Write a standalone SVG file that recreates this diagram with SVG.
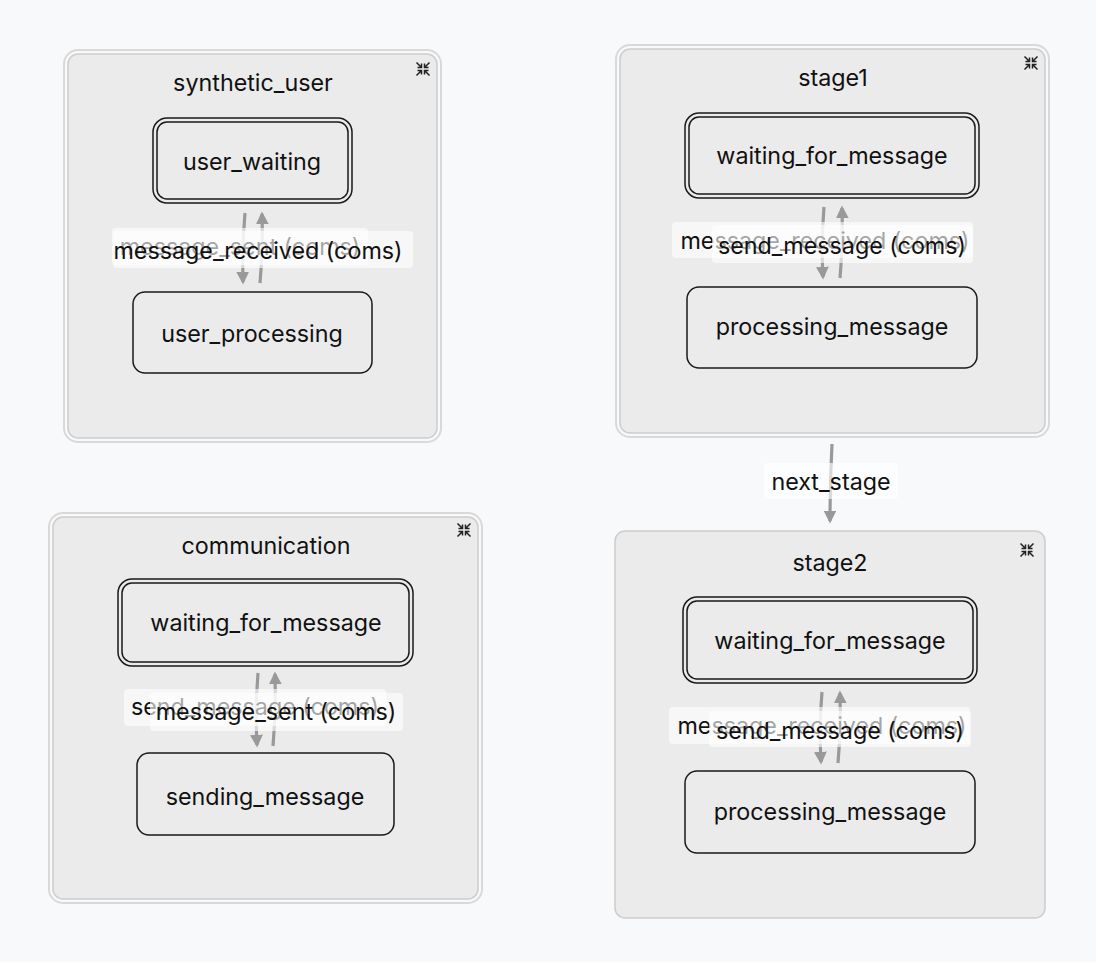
<svg xmlns="http://www.w3.org/2000/svg" width="1096" height="962" viewBox="0 0 1096 962">
<style>
text{font-family:Inter,"Noto Sans","Liberation Sans",sans-serif;font-size:23.3px;fill:#111;text-anchor:middle}
.ring{fill:none;stroke:#d9d9d9;stroke-width:2}
.box{fill:#ebebeb;stroke:#cdcdcd;stroke-width:1.5}
.st{fill:none;stroke:#1a1a1a;stroke-width:1.5}
.edge{fill:none;stroke:#999;stroke-width:3.2;marker-end:url(#ah)}
.lbl{fill:#fff;fill-opacity:0.62}
.ico{fill:none;stroke:#222;stroke-width:1.5}
</style>
<defs>
<marker id="ah" viewBox="0 0 10 10" refX="8" refY="5" markerWidth="4" markerHeight="4" orient="auto" markerUnits="strokeWidth">
<path d="M0,0 L10,5 L0,10 z" fill="#999"/>
</marker>
<g id="icon">
<path class="ico" d="M-6.5,-6.5 L-1.5,-1.5 M-1.5,-5.5 L-1.5,-1.5 L-5.5,-1.5"/>
<path class="ico" d="M6.5,-6.5 L1.5,-1.5 M1.5,-5.5 L1.5,-1.5 L5.5,-1.5"/>
<path class="ico" d="M-6.5,6.5 L-1.5,1.5 M-1.5,5.5 L-1.5,1.5 L-5.5,1.5"/>
<path class="ico" d="M6.5,6.5 L1.5,1.5 M1.5,5.5 L1.5,1.5 L5.5,1.5"/>
</g>
</defs>
<rect width="1096" height="962" fill="#f8f9fb"/>

<g id="synthetic_user">
<rect class="ring" x="64" y="50" width="377" height="392" rx="14"/>
<rect class="box" x="68" y="54" width="369" height="384" rx="10"/>
<text x="253" y="91">synthetic_user</text>
<use href="#icon" x="423" y="69"/>
</g>
<g id="su_user_waiting">
<rect class="st" x="153" y="118" width="199" height="85" rx="14"/>
<rect class="st" x="157" y="122" width="191" height="77" rx="10"/>
<text x="252" y="170">user_waiting</text>
</g>
<g id="su_user_processing">
<rect class="st" x="133" y="292" width="239" height="81" rx="12"/>
<text x="252" y="342">user_processing</text>
</g>

<g id="stage1">
<rect class="ring" x="616" y="45" width="433" height="392" rx="14"/>
<rect class="box" x="620" y="49" width="425" height="384" rx="10"/>
<text x="833" y="86">stage1</text>
<use href="#icon" x="1031" y="63"/>
</g>
<g id="s1_waiting">
<rect class="st" x="685" y="113" width="294" height="85" rx="14"/>
<rect class="st" x="689" y="117" width="286" height="77" rx="10"/>
<text x="832" y="164">waiting_for_message</text>
</g>
<g id="s1_processing">
<rect class="st" x="687" y="287" width="290" height="81" rx="12"/>
<text x="832" y="335">processing_message</text>
</g>

<g id="communication">
<rect class="ring" x="49" y="513" width="433" height="390" rx="14"/>
<rect class="box" x="53" y="517" width="425" height="382" rx="10"/>
<text x="266" y="554">communication</text>
<use href="#icon" x="464" y="530"/>
</g>
<g id="c_waiting">
<rect class="st" x="118" y="579" width="295" height="87" rx="14"/>
<rect class="st" x="122" y="583" width="287" height="79" rx="10"/>
<text x="266" y="631">waiting_for_message</text>
</g>
<g id="c_sending">
<rect class="st" x="137" y="753" width="257" height="82" rx="12"/>
<text x="265" y="805">sending_message</text>
</g>

<g id="stage2">
<rect class="box" x="615" y="531" width="430" height="387" rx="10"/>
<text x="830" y="571">stage2</text>
<use href="#icon" x="1027" y="550"/>
</g>
<g id="s2_waiting">
<rect class="st" x="683" y="597" width="294" height="86" rx="14"/>
<rect class="st" x="687" y="601" width="286" height="78" rx="10"/>
<text x="830" y="649">waiting_for_message</text>
</g>
<g id="s2_processing">
<rect class="st" x="685" y="771" width="290" height="82" rx="12"/>
<text x="830" y="820">processing_message</text>
</g>

<g id="connectors">
<path class="edge" d="M245,213 Q242,248 243,282"/>
<path class="edge" d="M260,283 Q263,248 262,214"/>
<rect class="lbl" x="112" y="228" width="256" height="37" rx="4"/>
<text x="240" y="255">message_sent (coms)</text>
<rect class="lbl" x="113" y="231" width="300" height="37" rx="4"/>
<text x="258" y="259">message_received (coms)</text>

<path class="edge" d="M824,207 Q821,242 823,277"/>
<path class="edge" d="M840,278 Q843,243 842,208"/>
<rect class="lbl" x="672" y="222" width="301" height="36" rx="4"/>
<text x="825" y="249">message_received (coms)</text>
<rect class="lbl" x="712" y="225" width="261" height="38" rx="4"/>
<text x="842" y="254">send_message (coms)</text>

<path class="edge" d="M258,673 Q255,709 257,745"/>
<path class="edge" d="M273,746 Q276,710 275,674"/>
<rect class="lbl" x="124" y="689" width="262" height="37" rx="4"/>
<text x="255" y="715">send_message (coms)</text>
<rect class="lbl" x="150" y="693" width="253" height="38" rx="4"/>
<text x="276" y="720">message_sent (coms)</text>

<path class="edge" d="M822,692 Q819,727 821,762"/>
<path class="edge" d="M838,763 Q841,728 840,693"/>
<rect class="lbl" x="669" y="707" width="301" height="37" rx="4"/>
<text x="822" y="734">message_received (coms)</text>
<rect class="lbl" x="709" y="711" width="262" height="36" rx="4"/>
<text x="840" y="739">send_message (coms)</text>

<path class="edge" d="M832,444 Q830,483 830,521"/>
<rect class="lbl" x="764" y="463" width="134" height="36" rx="4"/>
<text x="831" y="490">next_stage</text>
</g>
</svg>
